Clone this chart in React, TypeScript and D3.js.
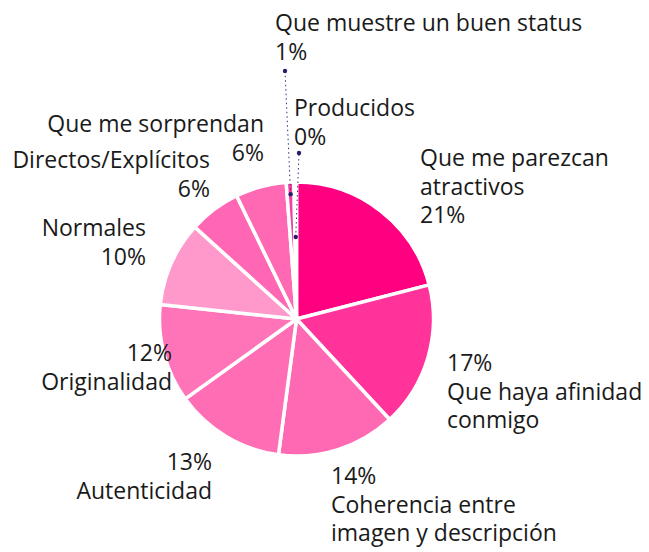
import React from "react";
import * as d3 from "d3";

const categories = [
  "Que me parezcan atractivos",
  "Que haya afinidad conmigo",
  "Coherencia entre imagen y descripción",
  "Autenticidad",
  "Originalidad",
  "Normales",
  "Directos/Explícitos",
  "Que me sorprendan",
  "Que muestre un buen status",
  "Producidos",
];
const values = [21.0, 17.1, 14.0, 13.0, 11.6, 10.0, 6.1, 6.0, 0.9, 0.3];
const percentLabels = ["21%", "17%", "14%", "13%", "12%", "10%", "6%", "6%", "1%", "0%"];
const colors = [
  "#ff0080",
  "#ff3399",
  "#ff69b4",
  "#ff6eb4",
  "#ff73b8",
  "#ff99cc",
  "#ff66b3",
  "#ff69b4",
  "#f040a0",
  "#ff4da6",
];

type LabelLayout = { lines: string[]; pctFirst: boolean; anchor: "start" | "end"; x: number; y: number };
const layouts: LabelLayout[] = [
  { lines: ["Que me parezcan", "atractivos"], pctFirst: false, anchor: "start", x: 420, y: 166 },
  { lines: ["Que haya afinidad", "conmigo"], pctFirst: true, anchor: "start", x: 447, y: 371 },
  { lines: ["Coherencia entre", "imagen y descripción"], pctFirst: true, anchor: "start", x: 331, y: 484 },
  { lines: ["Autenticidad"], pctFirst: true, anchor: "end", x: 212, y: 470 },
  { lines: ["Originalidad"], pctFirst: true, anchor: "end", x: 172, y: 361 },
  { lines: ["Normales"], pctFirst: false, anchor: "end", x: 146, y: 236 },
  { lines: ["Directos/Explícitos"], pctFirst: false, anchor: "end", x: 210, y: 168 },
  { lines: ["Que me sorprendan"], pctFirst: false, anchor: "end", x: 264, y: 132 },
  { lines: ["Que muestre un buen status"], pctFirst: false, anchor: "start", x: 275, y: 31 },
  { lines: ["Producidos"], pctFirst: false, anchor: "start", x: 294, y: 116 },
];

const W = 649;
const H = 552;
const cx = 296.5;
const cy = 319;
const R = 137;
const LH = 28.5;

export default function App() {
  const pie = d3.pie<number>().sort(null).value((d) => d);
  const arcs = pie(values);
  const arc = d3.arc<d3.PieArcDatum<number>>().innerRadius(0).outerRadius(R);
  const dotArcs: Record<number, number> = { 8: 125, 9: 82 };
  const leaderEnds: Record<number, [number, number]> = { 8: [285, 71], 9: [299, 153] };

  return (
    <svg width={W} height={H} style={{ position: "absolute", left: 0, top: 0 }} fontFamily="'Open Sans', sans-serif">
      <g transform={`translate(${cx},${cy})`}>
        {arcs.map((a, i) => (
          <path key={i} d={arc(a) || ""} fill={colors[i]} stroke="#fff" strokeWidth={3.5} strokeLinejoin="round" />
        ))}
      </g>
      {Object.keys(dotArcs).map((k) => {
        const i = +k;
        const a = arcs[i];
        const mid = (a.startAngle + a.endAngle) / 2;
        const r = dotArcs[i];
        const x1 = cx + Math.sin(mid) * r;
        const y1 = cy - Math.cos(mid) * r;
        const [x2, y2] = leaderEnds[i];
        return (
          <g key={i}>
            <line x1={x1} y1={y1} x2={x2} y2={y2} stroke="#3b2a80" strokeWidth={1} strokeDasharray="1.5,3" />
            <circle cx={x1} cy={y1} r={2.2} fill="#2a1a6b" />
            <circle cx={x2} cy={y2} r={2.2} fill="#2a1a6b" />
          </g>
        );
      })}
      {layouts.map((l, i) => {
        const lines = l.pctFirst ? [percentLabels[i], ...l.lines] : [...l.lines, percentLabels[i]];
        return (
          <text key={i} x={l.x} y={l.y} textAnchor={l.anchor} fontSize={23} fill="#1a1a1a">
            {lines.map((t, j) => (
              <tspan key={j} x={l.x} y={l.y + j * LH}>
                {t}
              </tspan>
            ))}
          </text>
        );
      })}
    </svg>
  );
}
